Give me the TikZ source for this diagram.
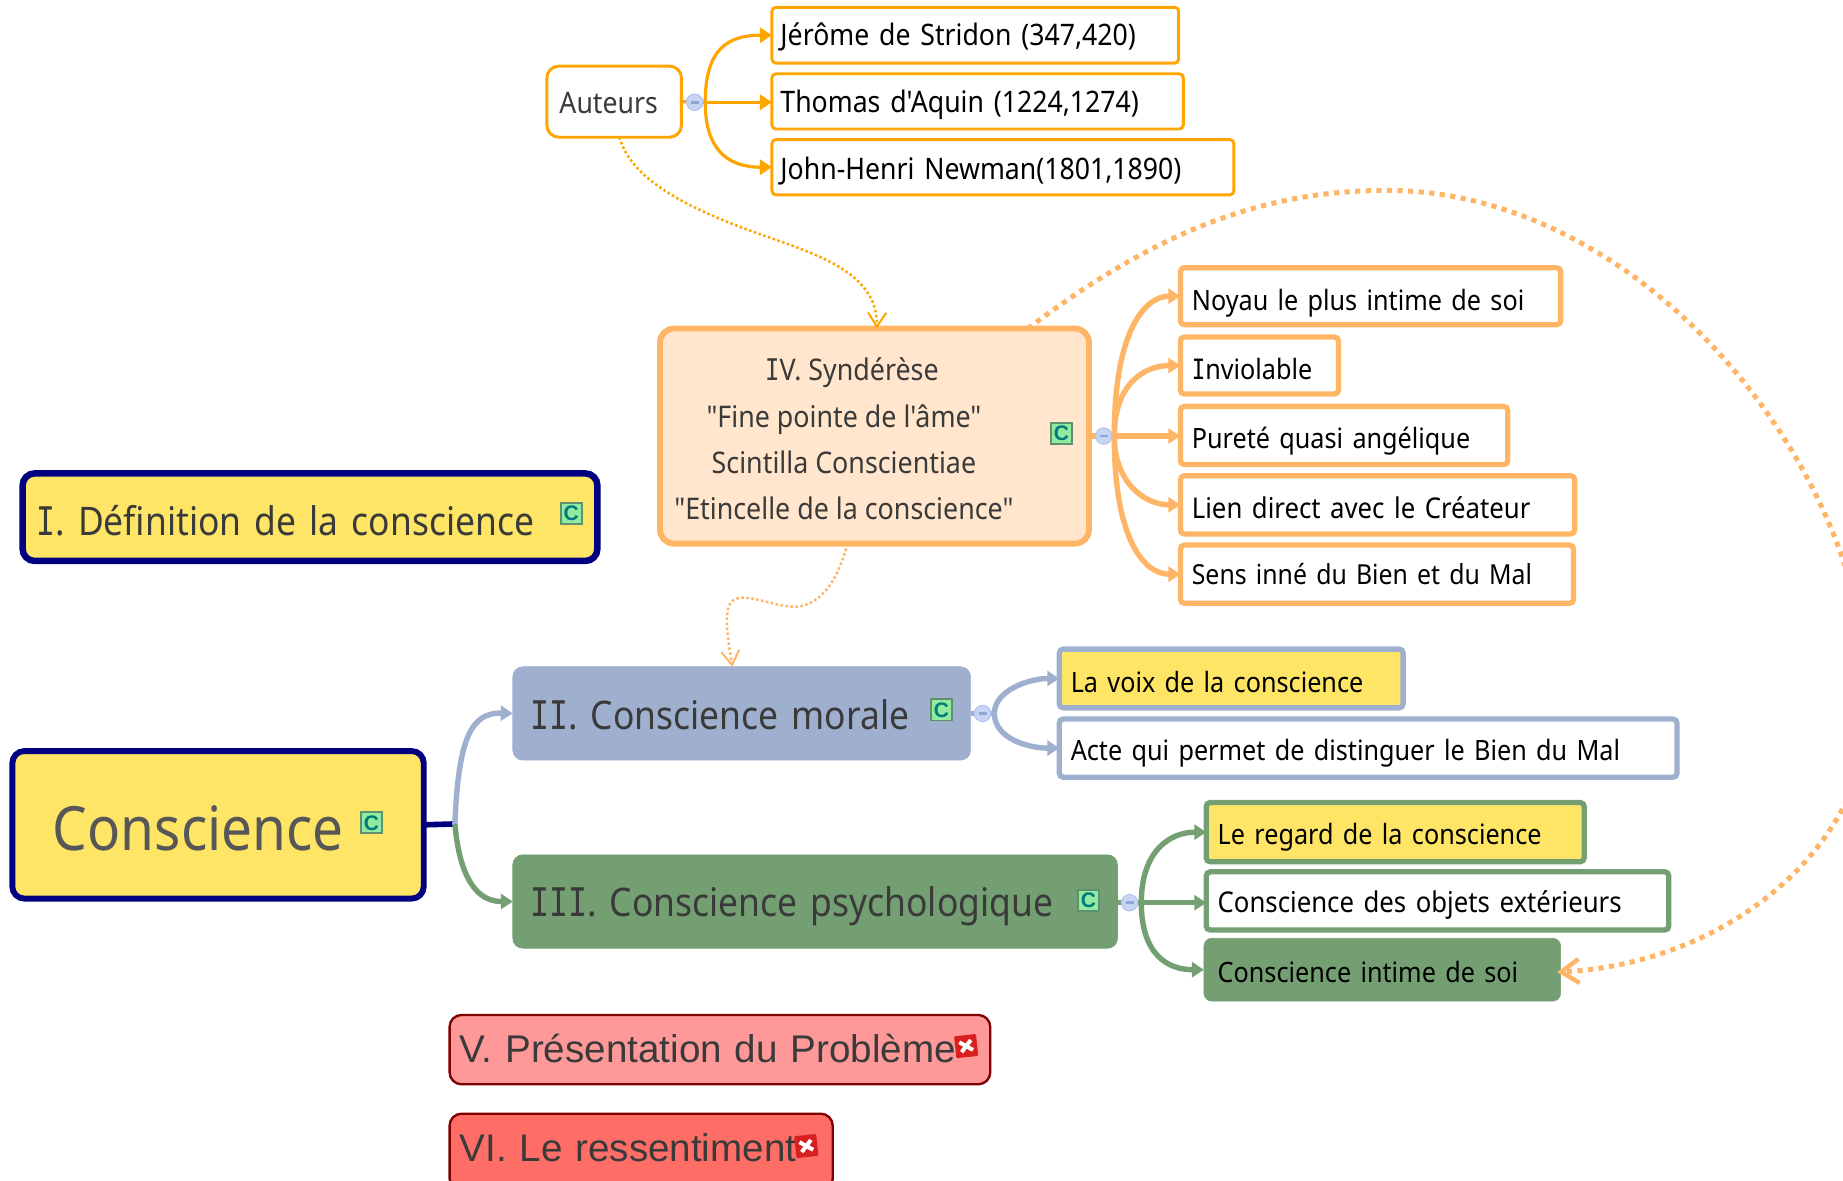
\documentclass[tikz,border=0pt]{standalone}
\usepackage{fontspec}
\usetikzlibrary{calc,arrows.meta,shapes.misc}
\newfontfamily\mf[FakeStretch=0.9]{Noto Sans}
\newfontfamily\arialf{Liberation Sans}
\newfontfamily\serifI[FakeStretch=0.8]{DejaVu Sans Mono}
\newcommand{\sI}{{\serifI I}}
\definecolor{cyel}{HTML}{FFE566}
\definecolor{cnavy}{HTML}{000080}
\definecolor{corg}{HTML}{FFA500}
\definecolor{cpeach}{HTML}{FFB566}
\definecolor{cpeachf}{HTML}{FFE6CC}
\definecolor{cblue}{HTML}{9FB0CF}
\definecolor{cgreen}{HTML}{739F73}
\definecolor{cdred}{HTML}{800000}
\definecolor{cr1}{HTML}{FF9999}
\definecolor{cr2}{HTML}{FF6E66}
\definecolor{ctxt}{HTML}{3A3A3A}
\definecolor{ciconf}{HTML}{90EAA0}
\definecolor{ciconb}{HTML}{5F9070}
\definecolor{ciconc}{HTML}{007A7A}
\definecolor{ccircf}{HTML}{C6D6F2}
\definecolor{ccircd}{HTML}{8FA6D8}
\definecolor{cxred}{HTML}{D82020}
\def\ux{0.5877}
\def\dropp{0pt}
\newcommand{\bx}[9]{%
  \pgfmathsetmacro\cxx{(#2+#4)/2}%
  \pgfmathsetmacro\cyy{(#3+#5)/2}%
  \pgfmathsetmacro\bw{(#4-#2-#6)*\ux}%
  \pgfmathsetmacro\bh{(#5-#3-#6)*\ux}%
  \pgfmathsetmacro\ipad{(#7-#6/2)*\ux}%
  \pgfmathsetmacro\tw{(#4-#2-#6)*\ux-2*\ipad}%
  \pgfmathsetmacro\lw{#6*\ux}%
  \node[boxn,line width=\lw pt,minimum width=\bw pt,minimum height=\bh pt,inner xsep=\ipad pt,text width=\tw pt,#8] (#1) at (\cxx,\cyy) {\mbox{\strut\raisebox{\dropp}[0pt][0pt]{#9}}};%
}
\newcommand{\cic}[3]{% name, x, y
  \node[iconc] (#1) at (#2,#3) {\arialf\bfseries\fontsize{10.5}{10.5}\selectfont C};%
}
\newcommand{\xic}[3]{% name, x, y
  \node[iconx,rotate=6] (#1) at (#2,#3) {};
  \draw[white,line width=2pt] ($(#1.north west)+(2.6pt,-3pt)$) -- ($(#1.south east)+(-2.6pt,3pt)$);
  \draw[white,line width=2pt] ($(#1.north east)+(-2.6pt,-3pt)$) -- ($(#1.south west)+(2.6pt,3pt)$);
}
\newcommand{\circn}[3]{% name,x,y
  \node[collapse] (#1) at (#2,#3) {};
  \draw[ccircd,line width=1.3pt] ($(#1.center)+(-2pt,0)$) -- ($(#1.center)+(2pt,0)$);
}
\tikzset{
  x=0.5877pt,y=-0.5877pt,
  drop/.code={\pgfmathsetmacro\dropp{-(#1)*\ux}\edef\dropp{\dropp pt}},
  boxn/.style={rectangle,rounded corners=5pt,outer sep=0pt,inner ysep=0pt,align=left,draw},
  iconc/.style={rectangle,draw=ciconb,fill=ciconf,line width=0.9pt,minimum size=10.6pt,inner sep=0pt,text=ciconc,outer sep=0pt},
  iconx/.style={rectangle,fill=cxred,minimum size=11pt,inner sep=0pt,outer sep=0pt,rounded corners=0.6pt},
  collapse/.style={circle,fill=ccircf,draw=ccircf!90!blue,line width=0.5pt,minimum size=8.2pt,inner sep=0pt,outer sep=0pt},
  conn/.style={line width=#1,-{Triangle[length=6pt,width=7.5pt]}},
  conn/.default=1.6pt,
  vhead/.style={-{Straight Barb[length=7pt,width=9pt,line width=1pt]}},
  leaf/.style={fill=white,text=black,rounded corners=2pt,font=\mf\fontsize{14}{17}\selectfont},
  leafa/.style={fill=white,text=black,rounded corners=2pt,font=\mf\fontsize{14.8}{17}\selectfont},
  big/.style={font=\mf\fontsize{19.7}{25}\selectfont},
  arialbig/.style={font=\arialf\fontsize{19.3}{24}\selectfont},
}
\begin{document}
\begin{tikzpicture}
\clip (0,0) rectangle (1568,1004);
\useasboundingbox (0,0) rectangle (1568,1004);

% main nodes
\bx{auteurs}{464}{55}{581}{118}{2.5}{12}{draw=corg,fill=white,text=ctxt,font=\mf\fontsize{14.8}{17}\selectfont,rounded corners=6pt,drop=4}{Auteurs}
\bx{jerome}{655.5}{5}{1004}{55}{2.5}{8.5}{leafa,draw=corg,drop=3}{Jérôme de Stridon (347,420)}
\bx{thomas}{655.5}{61.5}{1008}{111}{2.5}{8.5}{leafa,draw=corg,drop=4}{Thomas d'Aquin (1224,1274)}
\bx{john}{655.5}{117.5}{1051}{167}{2.5}{8.5}{leafa,draw=corg,drop=5}{John-Henri Newman(1801,1890)}

\bx{iv}{559}{277}{929}{465}{5}{10}{draw=cpeach,fill=cpeachf,rounded corners=7pt}{}
\node[text=ctxt,font=\mf\fontsize{14.9}{23.2}\selectfont,align=center,inner sep=0pt] (ivtext) at (718,373.5) {\hspace*{8pt}\sI V. Syndérèse\\"Fine pointe de l'âme"\\Scintilla Conscientiae\\"Etincelle de la conscience"};
\cic{iviconn}{903}{369}

\bx{noyau}{1002}{225.5}{1330}{278.5}{4.5}{12}{leaf,draw=cpeach,drop=6}{Noyau le plus intime de soi}
\bx{inviol}{1002}{284.5}{1141}{337.5}{4.5}{12}{leaf,draw=cpeach,drop=6}{\sI nviolable}
\bx{purete}{1002}{343.5}{1285}{397.5}{4.5}{12}{leaf,draw=cpeach,drop=5}{Pureté quasi angélique}
\bx{lien}{1002}{402.5}{1342}{456.5}{4.5}{12}{leaf,draw=cpeach,font=\mf\fontsize{14.3}{17}\selectfont,drop=6}{Lien direct avec le Créateur}
\bx{sens}{1002}{461.5}{1341}{515.5}{4.5}{12}{leaf,draw=cpeach,font=\mf\fontsize{13.8}{17}\selectfont,drop=3}{Sens inné du Bien et du Mal}

\bx{def}{16.5}{400}{511}{480}{5.5}{14.5}{draw=cnavy,fill=cyel,text=ctxt,big,rounded corners=6pt,drop=7}{\sI. Définition de la conscience}
\cic{deficon}{486}{437}

\bx{root}{8}{636.5}{363}{767}{5}{37}{draw=cnavy,fill=cyel,text=ctxt!85!white,font=\mf\fontsize{30.5}{36}\selectfont,rounded corners=6pt,drop=10}{Conscience}
\cic{rooticon}{316}{700}

\bx{ii}{436}{567}{826}{647}{0.5}{15}{draw=cblue,fill=cblue,text=ctxt,big,rounded corners=5pt,drop=5}{\sI\sI. Conscience morale}
\cic{iiicon}{801}{604}
\bx{voix}{899}{550}{1196}{604.5}{4.5}{12}{leaf,draw=cblue,fill=cyel,drop=6}{La voix de la conscience}
\bx{acte}{899}{609.5}{1429}{663.5}{4.5}{12}{leaf,draw=cblue,drop=5}{Acte qui permet de distinguer le Bien du Mal}

\bx{iii}{436}{727}{951}{807}{0.5}{15}{draw=cgreen,fill=cgreen,text=ctxt,big,rounded corners=5pt,drop=4}{\sI\sI\sI. Conscience psychologique}
\cic{iiiicon}{926}{766}
\bx{regard}{1024}{680.5}{1350}{735.5}{4.5}{12}{leaf,draw=cgreen,fill=cyel,drop=5}{Le regard de la conscience}
\bx{objets}{1024}{739.5}{1422}{793.5}{4.5}{12}{leaf,draw=cgreen,font=\mf\fontsize{14.3}{17}\selectfont,drop=4}{Conscience des objets extérieurs}
\bx{intime}{1024}{798}{1328}{852}{0.5}{12}{leaf,draw=cgreen,fill=cgreen,rounded corners=4pt,drop=5}{Conscience intime de soi}

\bx{v}{381.5}{862.5}{843.5}{923.5}{2}{9.5}{draw=cdred,fill=cr1,text=ctxt,arialbig,rounded corners=6pt,drop=3}{V. Présentation du Problème}
\xic{vicon}{822}{890}
\bx{vi}{381.5}{946.5}{709.5}{1014}{2}{9.5}{draw=cdred,fill=cr2,text=ctxt,arialbig,rounded corners=6pt,drop=0}{VI. Le ressentiment}
\xic{viicon}{686}{975}

% collapse marks and forks
\coordinate (fa) at (600,87);
\coordinate (fiv) at (948,371);
\coordinate (fii) at (846,607);
\coordinate (fiii) at (971,768);
\coordinate (froot) at (387,701);

\draw[corg,line width=1.6pt] (auteurs.east) -- (fa);
\draw[corg,conn] (fa) .. controls +(0,-45) and +(-38,0) .. (jerome.west);
\draw[corg,conn] (fa) -- (fa -| thomas.west);
\draw[corg,conn] (fa) .. controls +(0,40) and +(-38,0) .. (john.west);
\circn{ca}{591}{87}

\draw[cpeach,line width=2.7pt] (fiv -| iv.east) -- (fiv);
\draw[cpeach,conn=2.7pt] (fiv) .. controls +(0,-90) and +(-30,0) .. (noyau.west);
\draw[cpeach,conn=2.7pt] (fiv) .. controls +(0,-45) and +(-30,0) .. (inviol.west);
\draw[cpeach,conn=2.7pt] (fiv) -- (fiv -| purete.west);
\draw[cpeach,conn=2.7pt] (fiv) .. controls +(0,40) and +(-30,0) .. (lien.west);
\draw[cpeach,conn=2.7pt] (fiv) .. controls +(0,90) and +(-30,0) .. (sens.west);
\circn{civ}{939}{371}

\draw[cblue,line width=2.7pt] (ii.east) -- (fii);
\draw[cblue,conn=2.7pt] (fii) .. controls +(0,-20) and +(-25,0) .. (voix.west);
\draw[cblue,conn=2.7pt] (fii) .. controls +(0,22) and +(-25,0) .. (acte.west);
\circn{cii}{836}{607}

\draw[cgreen,line width=2.7pt] (fiii -| iii.east) -- (fiii);
\draw[cgreen,conn=2.7pt] (fiii) .. controls +(0,-45) and +(-30,0) .. (regard.west);
\draw[cgreen,conn=2.7pt] (fiii) -- (fiii -| objets.west);
\draw[cgreen,conn=2.7pt] (fiii) .. controls +(0,45) and +(-30,0) .. (intime.west);
\circn{ciii}{961}{768}

\draw[cnavy,line width=2.8pt] (root.east) -- (froot);
\draw[cblue,conn=2.7pt] (froot) .. controls (390,630) and (400,606) .. (ii.west);
\draw[cgreen,conn=2.7pt] (froot) .. controls (390,735) and (400,767) .. (iii.west);

% relations
\draw[corg,line width=1.25pt,dash pattern=on 1.25pt off 1.25pt,vhead] ($(auteurs.south)+(4.5,0)$) .. controls (535,145) and (565,170) .. (643,198) .. controls (690,215) and (747,230) .. ($(iv.north)+(2,0)$);
\draw[cpeach,line width=1.25pt,dash pattern=on 1.25pt off 1.25pt,vhead] ($(iv.south)+(-23,0)$) .. controls (710,505) and (690,518) .. (672,516) .. controls (650,514) and (622,498) .. (619,520) .. controls (617,535) and (621,552) .. ($(ii.north)+(-8,0)$);
\draw[cpeach,line width=2.5pt,dash pattern=on 2.6pt off 2.7pt,-{Straight Barb[length=9pt,width=12pt,line width=2.2pt]}] ($(iv.north)+(130.5,0)$) .. controls (980,200) and (1070,162) .. (1180,162) .. controls (1400,162) and (1590,400) .. (1590,600) .. controls (1590,720) and (1470,820) .. ($(intime.east)+(-3,2)$);
\end{tikzpicture}
\end{document}
